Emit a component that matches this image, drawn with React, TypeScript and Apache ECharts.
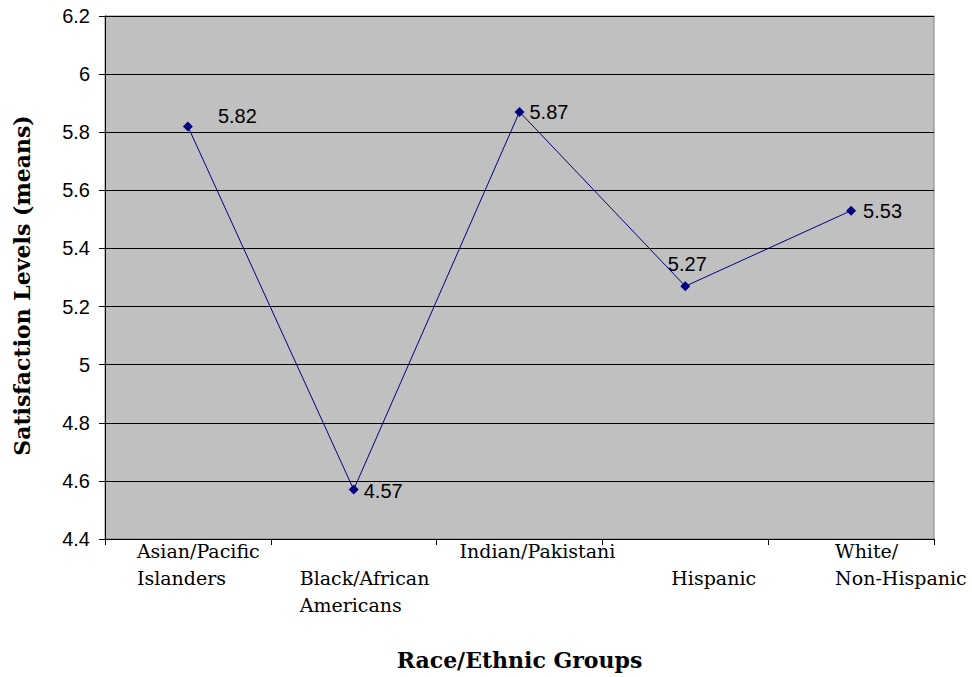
import React, { useEffect, useRef } from "react";
import * as echarts from "echarts";

const categories = [
  "Asian/Pacific\nIslanders",
  "Black/African\nAmericans",
  "Indian/Pakistani",
  "Hispanic",
  "White/\nNon-Hispanic",
];
const values = [5.82, 4.57, 5.87, 5.27, 5.53];
const yMin = 4.4;
const yMax = 6.2;
const yStep = 0.2;
const xTitle = "Race/Ethnic Groups";
const yTitle = "Satisfaction Levels (means)";

// layout-only settings (not data)
const labelBoxWidth = [102, 108, 120, 28, 32];
const labelDrop = [false, true, false, true, false];
const pointLabelPos = ["right", "right", "right", "top", "right"];
const pointLabelOffset = [[20, -10], [0, 1], [0, 0], [2, -2], [2, 0]];

const SERIF = "'DejaVu Serif', 'Liberation Serif', serif";
const SANS = "'Liberation Sans', Arial, sans-serif";

export default function App() {
  const ref = useRef<HTMLDivElement>(null);
  useEffect(() => {
    if (!ref.current) return;
    const chart = echarts.init(ref.current, null, { renderer: "svg" });
    const rich: Record<string, any> = {};
    categories.forEach((_, i) => {
      rich["c" + i] = {
        width: labelBoxWidth[i],
        align: "left",
        fontFamily: SERIF,
        fontSize: 19,
        lineHeight: 27,
        color: "#000",
      };
    });
    chart.setOption({
      animation: false,
      backgroundColor: "#fff",
      grid: {
        left: 105,
        top: 16,
        right: 38,
        bottom: 138,
        show: true,
        backgroundColor: "#c0c0c0",
        borderColor: "#808080",
        borderWidth: 1,
      },
      xAxis: {
        type: "category",
        data: categories,
        boundaryGap: true,
        name: xTitle,
        nameLocation: "middle",
        nameGap: 110,
        nameTextStyle: {
          fontFamily: SERIF,
          fontWeight: "bold",
          fontSize: 22,
          color: "#000",
        },
        axisLine: { lineStyle: { color: "#000", width: 1 } },
        axisTick: { show: true, length: 6, interval: 0, lineStyle: { color: "#000" } },
        axisLabel: {
          interval: 0,
          margin: -2,
          align: "center",
          verticalAlign: "top",
          formatter: (value: string, index: number) => {
            const lines = value.split("\n");
            if (labelDrop[index]) lines.unshift(" ");
            return lines.map((line) => `{c${index}|${line}}`).join("\n");
          },
          rich,
        },
        splitLine: { show: false },
      },
      yAxis: {
        type: "value",
        min: yMin,
        max: yMax,
        interval: yStep,
        name: yTitle,
        nameLocation: "middle",
        nameRotate: 90,
        nameGap: 72,
        nameTextStyle: {
          fontFamily: SERIF,
          fontWeight: "bold",
          fontSize: 22,
          color: "#000",
          padding: [0, 16, 0, 0],
        },
        axisLine: { show: true, lineStyle: { color: "#000", width: 1 } },
        axisTick: { show: true, length: 6, lineStyle: { color: "#000" } },
        axisLabel: {
          margin: 15,
          fontFamily: SANS,
          fontSize: 20,
          color: "#000",
          formatter: (v: number) => String(+v.toFixed(1)),
        },
        splitLine: { show: true, lineStyle: { color: "#000", width: 1 } },
      },
      series: [
        {
          type: "line",
          data: values.map((v, i) => ({
            value: v,
            label: {
              position: pointLabelPos[i],
              offset: pointLabelOffset[i],
            },
          })),
          symbol: "diamond",
          symbolSize: 10,
          showSymbol: true,
          lineStyle: { color: "#000080", width: 1 },
          itemStyle: { color: "#000080" },
          label: {
            show: true,
            fontFamily: SANS,
            fontSize: 20,
            color: "#000",
            distance: 5,
            formatter: (p: any) => String(p.value),
          },
        },
      ],
    });
    return () => chart.dispose();
  }, []);
  return (
    <div
      ref={ref}
      style={{ position: "fixed", left: 0, top: 0, width: 972, height: 677 }}
    />
  );
}
